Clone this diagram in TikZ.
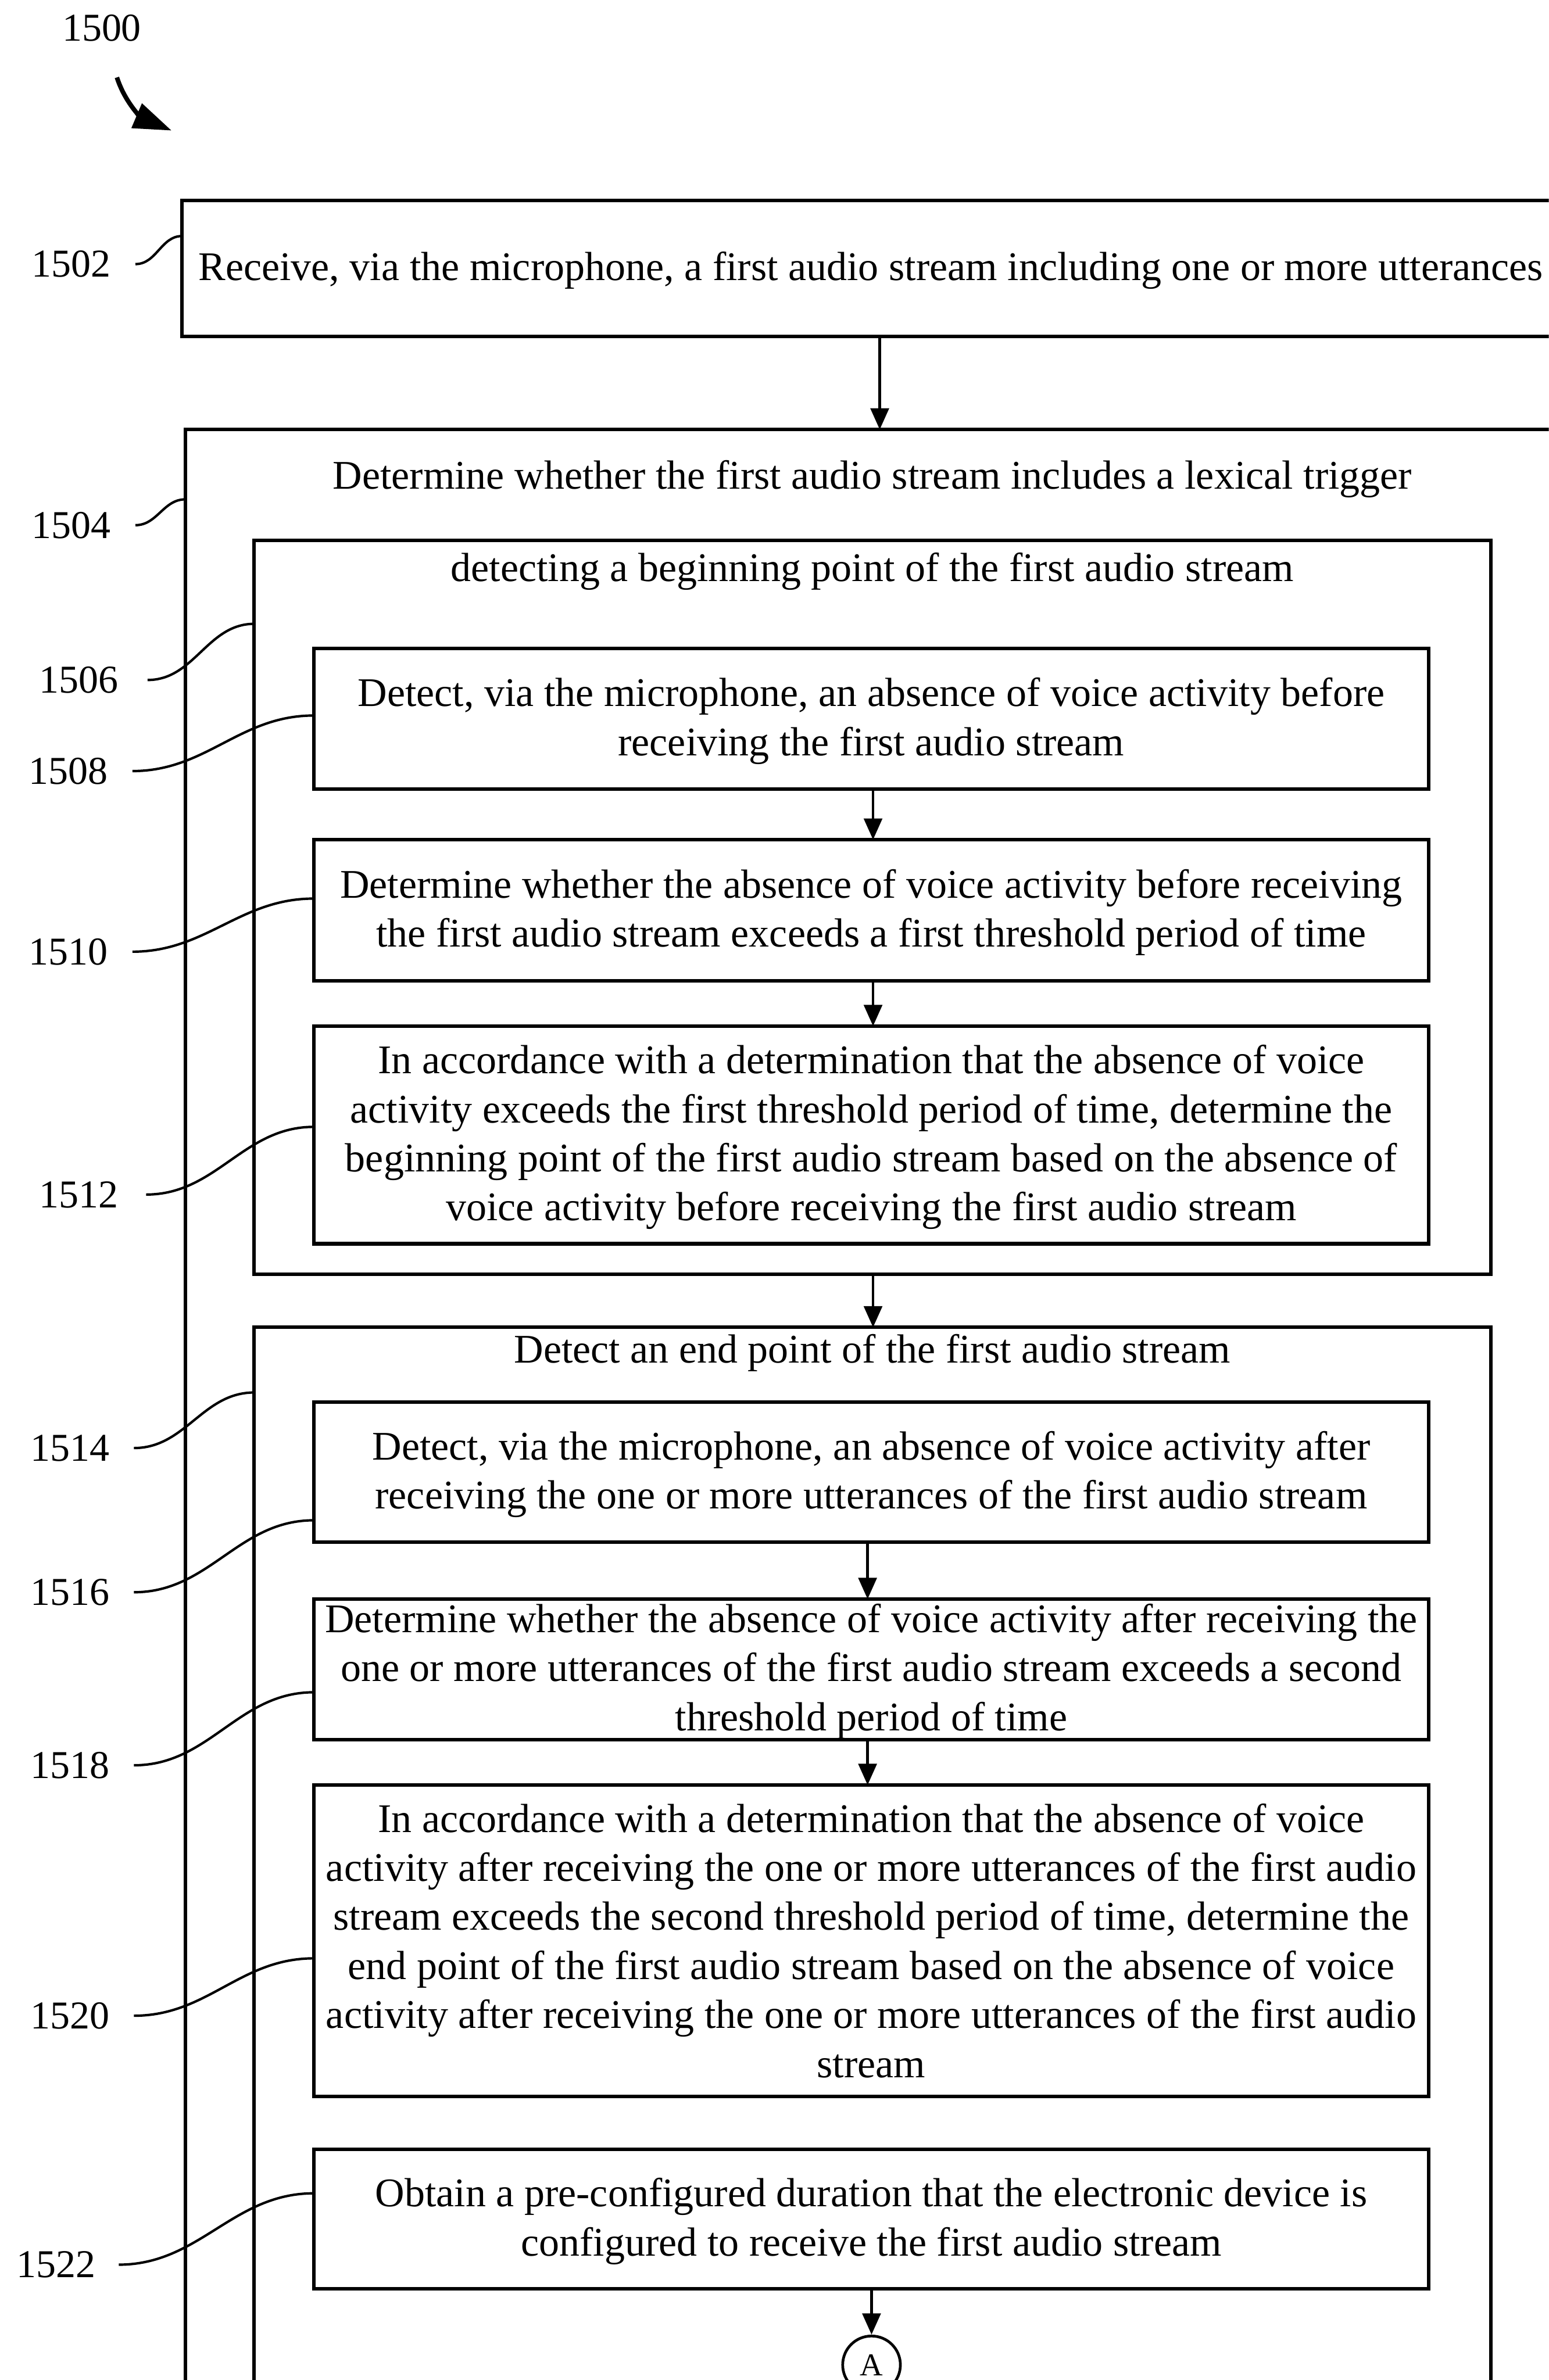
\documentclass[tikz,border=0pt]{standalone}
\usepackage{fontspec}
\setmainfont{Liberation Serif}
\usetikzlibrary{arrows.meta}

\begin{document}
\begin{tikzpicture}[x=1pt,y=-1pt,
  box/.style={draw, rectangle, line width=2.3pt, inner sep=0pt, outer sep=0pt, anchor=north west},
  txt/.style={align=center, inner sep=0pt, font=\fontsize{26.8}{32.3}\selectfont},
  boxtxt/.style={txt, yshift=-1.5pt},
  lbl/.style={inner sep=0pt, font=\fontsize{26}{30}\selectfont},
  lead/.style={line width=1.6pt},
  arr/.style={line width=1.8pt, -{Triangle[length=14pt,width=12pt]}},
]
\useasboundingbox (0,0) rectangle (1020,1568);
\clip (0,0) rectangle (1020,1568);

% figure number and its pointer
\node[lbl] (l1500) at (67,18.5) {1500};
\coordinate (s1500) at (77,51);
\coordinate (p1500) at (113,86);
\draw[line width=3pt, -{Triangle[length=25pt,width=17pt]}]
  (s1500) to[out=-72,in=157] (p1500);

% boxes
\node[box, minimum width=907pt, minimum height=89.5pt] (b1502) at (120,132) {};
\node[box, minimum width=905pt, minimum height=1337pt] (b1504) at (122,283) {};
\node[box, minimum width=814.4pt, minimum height=483.6pt] (b1506) at (167.4,356) {};
\node[box, minimum width=734.4pt, minimum height=92.8pt] (b1508) at (206.6,427.2) {};
\node[box, minimum width=734.4pt, minimum height=92.9pt] (b1510) at (206.6,553.2) {};
\node[box, minimum width=734.4pt, minimum height=143.4pt] (b1512) at (206.6,676) {};
\node[box, minimum width=814.4pt, minimum height=745.5pt] (b1514) at (167.4,874.5) {};
\node[box, minimum width=734.4pt, minimum height=92.4pt] (b1516) at (206.6,923.6) {};
\node[box, minimum width=734.4pt, minimum height=92.5pt] (b1518) at (206.6,1053.5) {};
\node[box, minimum width=734.4pt, minimum height=205pt] (b1520) at (206.6,1176) {};
\node[box, minimum width=734.4pt, minimum height=92pt] (b1522) at (206.6,1416) {};
\node[draw, circle, line width=1.8pt, minimum size=38pt, inner sep=0pt,
      font=\fontsize{21}{24}\selectfont] (cA) at (574,1558) {A};

% box texts
\node[boxtxt] at (b1502.center) {Receive, via the microphone, a first audio stream including one or more utterances};
\node[txt, anchor=base] (t1504) at (574.5,322) {Determine whether the first audio stream includes a lexical trigger};
\node[txt, anchor=base] (t1506) at (574.5,383) {detecting a beginning point of the first audio stream};
\node[boxtxt] at (b1508.center) {Detect, via the microphone, an absence of voice activity before\\receiving the first audio stream};
\node[boxtxt] at (b1510.center) {Determine whether the absence of voice activity before receiving\\the first audio stream exceeds a first threshold period of time};
\node[boxtxt] at (b1512.center) {In accordance with a determination that the absence of voice\\activity exceeds the first threshold period of time, determine the\\beginning point of the first audio stream based on the absence of\\voice activity before receiving the first audio stream};
\node[txt, anchor=base] (t1514) at (574.5,898) {Detect an end point of the first audio stream};
\node[boxtxt] at (b1516.center) {Detect, via the microphone, an absence of voice activity after\\receiving the one or more utterances of the first audio stream};
\node[boxtxt] at (b1518.center) {Determine whether the absence of voice activity after receiving the\\one or more utterances of the first audio stream exceeds a second\\threshold period of time};
\node[txt] at (b1520.center) {In accordance with a determination that the absence of voice\\activity after receiving the one or more utterances of the first audio\\stream exceeds the second threshold period of time, determine the\\end point of the first audio stream based on the absence of voice\\activity after receiving the one or more utterances of the first audio\\stream};
\node[boxtxt] at (b1522.center) {Obtain a pre-configured duration that the electronic device is\\configured to receive the first audio stream};

% reference numerals
\node[lbl] (l1502) at (47,174) {1502};
\node[lbl] (l1504) at (47,346) {1504};
\node[lbl] (l1506) at (52,448) {1506};
\node[lbl] (l1508) at (45,508) {1508};
\node[lbl] (l1510) at (45,627) {1510};
\node[lbl] (l1512) at (52,787) {1512};
\node[lbl] (l1514) at (46,954) {1514};
\node[lbl] (l1516) at (46,1049) {1516};
\node[lbl] (l1518) at (46,1163) {1518};
\node[lbl] (l1520) at (46,1328) {1520};
\node[lbl] (l1522) at (37,1492) {1522};

% leader lines
\draw[lead] ([xshift=16pt]l1502.east) to[out=0,in=180] ([yshift=-23.5pt]b1502.north west);
\draw[lead] ([xshift=16pt]l1504.east) to[out=0,in=180] ([yshift=-46pt]b1504.north west);
\draw[lead] ([xshift=19pt]l1506.east) to[out=0,in=180] ([yshift=-55pt]b1506.north west);
\draw[lead] ([xshift=16pt]l1508.east) to[out=0,in=180] ([yshift=-44.2pt]b1508.north west);
\draw[lead] ([xshift=16pt]l1510.east) to[out=0,in=180] ([yshift=-38.8pt]b1510.north west);
\draw[lead] ([xshift=18pt]l1512.east) to[out=0,in=180] ([yshift=-66.4pt]b1512.north west);
\draw[lead] ([xshift=16pt]l1514.east) to[out=0,in=180] ([yshift=-42.9pt]b1514.north west);
\draw[lead] ([xshift=16pt]l1516.east) to[out=0,in=180] ([yshift=-78pt]b1516.north west);
\draw[lead] ([xshift=16pt]l1518.east) to[out=0,in=180] ([yshift=-61.4pt]b1518.north west);
\draw[lead] ([xshift=16pt]l1520.east) to[out=0,in=180] ([yshift=-114.2pt]b1520.north west);
\draw[lead] ([xshift=15pt]l1522.east) to[out=0,in=180] ([yshift=-29pt]b1522.north west);

% flow arrows
\draw[arr] (b1502.south -| 579.4,0) -- (b1504.north -| 579.4,0);
\draw[arr] (b1508.south -| 575,0) -- (b1510.north -| 575,0);
\draw[arr] (b1510.south -| 575,0) -- (b1512.north -| 575,0);
\draw[arr] (b1506.south -| 575,0) -- (b1514.north -| 575,0);
\draw[arr] (b1516.south -| 571.4,0) -- (b1518.north -| 571.4,0);
\draw[arr] (b1518.south -| 571.4,0) -- (b1520.north -| 571.4,0);
\draw[arr] (b1522.south -| 574,0) -- (cA.north);
\end{tikzpicture}
\end{document}
